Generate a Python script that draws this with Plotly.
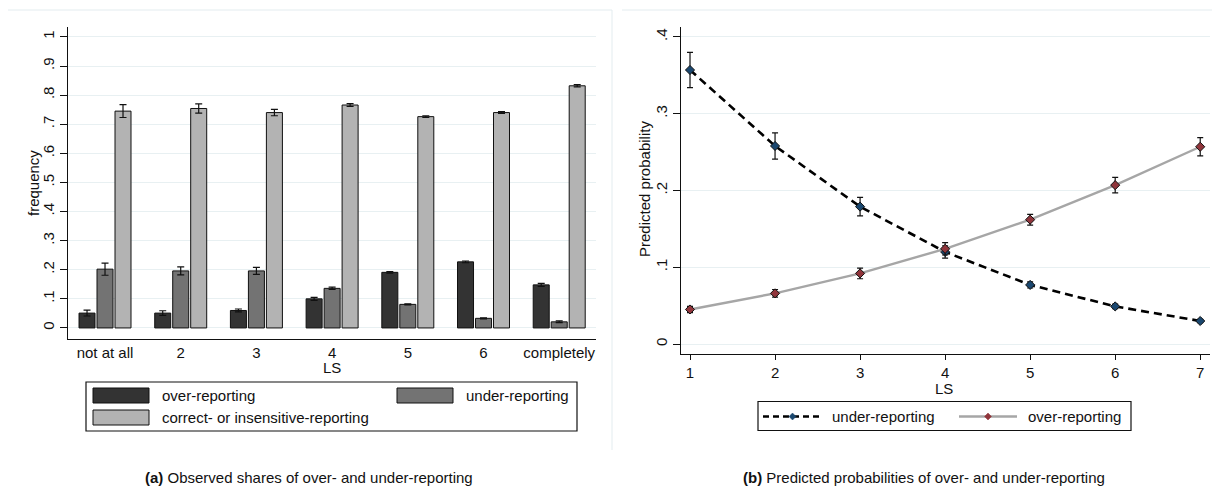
import plotly.graph_objects as go

W, H = 1212, 487

# ---------------- data: panel (a) ----------------
categories = ["not at all", "2", "3", "4", "5", "6", "completely"]
cat_pos = [1, 2, 3, 4, 5, 6, 7]
series_names_a = ["over-reporting", "under-reporting", "correct- or insensitive-reporting"]
over_share = [0.051, 0.051, 0.060, 0.100, 0.191, 0.227, 0.148]
over_err = [0.010, 0.008, 0.005, 0.005, 0.003, 0.003, 0.005]
under_share = [0.202, 0.196, 0.196, 0.136, 0.081, 0.033, 0.021]
under_err = [0.021, 0.014, 0.012, 0.004, 0.002, 0.002, 0.003]
correct_share = [0.745, 0.754, 0.740, 0.766, 0.726, 0.740, 0.832]
correct_err = [0.022, 0.016, 0.011, 0.005, 0.003, 0.003, 0.004]
yticks_a = [0, 0.1, 0.2, 0.3, 0.4, 0.5, 0.6, 0.7, 0.8, 0.9, 1.0]
yticklabels_a = ["0", ".1", ".2", ".3", ".4", ".5", ".6", ".7", ".8", ".9", "1"]

# ---------------- data: panel (b) ----------------
ls_values = [1, 2, 3, 4, 5, 6, 7]
series_names_b = ["under-reporting", "over-reporting"]
pred_under = [0.357, 0.258, 0.179, 0.120, 0.077, 0.049, 0.030]
pred_under_err = [0.023, 0.017, 0.012, 0.008, 0.004, 0.003, 0.002]
pred_over = [0.045, 0.066, 0.092, 0.124, 0.162, 0.207, 0.257]
pred_over_err = [0.004, 0.005, 0.007, 0.008, 0.007, 0.010, 0.012]
yticks_b = [0, 0.1, 0.2, 0.3, 0.4]
yticklabels_b = ["0", ".1", ".2", ".3", ".4"]

FONT = "Liberation Sans, Arial, Helvetica, sans-serif"
FS = 15
GRID = "#e8f0f2"
bar_colors = ["#333333", "#737373", "#b3b3b3"]
under_col = "#1a476f"
over_col = "#90353b"


def px(x):
    return x / W


def py(y):
    return 1 - y / H


fig = go.Figure()

# bars
for name, vals, errs, col in zip(series_names_a,
                                 [over_share, under_share, correct_share],
                                 [over_err, under_err, correct_err],
                                 bar_colors):
    fig.add_trace(go.Bar(
        x=cat_pos, y=vals, name=name, xaxis="x", yaxis="y",
        marker=dict(color=col, line=dict(color="#111111", width=1)),
        error_y=dict(type="data", array=errs, visible=True,
                     color="#111111", thickness=1.2, width=3.5),
        showlegend=False,
    ))

# lines panel (b)
fig.add_trace(go.Scatter(
    x=ls_values, y=pred_under, name=series_names_b[0], xaxis="x2", yaxis="y2",
    mode="lines+markers",
    line=dict(color="#000000", width=2.6, dash="8px,5px"),
    marker=dict(symbol="diamond", size=7, color=under_col,
                line=dict(color="#111111", width=1)),
    error_y=dict(type="data", array=pred_under_err, visible=True,
                 color="#111111", thickness=1.2, width=3),
    showlegend=False,
))
fig.add_trace(go.Scatter(
    x=ls_values, y=pred_over, name=series_names_b[1], xaxis="x2", yaxis="y2",
    mode="lines+markers",
    line=dict(color="#a6a6a6", width=2.4),
    marker=dict(symbol="diamond", size=7, color=over_col,
                line=dict(color="#111111", width=1)),
    error_y=dict(type="data", array=pred_over_err, visible=True,
                 color="#111111", thickness=1.2, width=3),
    showlegend=False,
))

tickfont = dict(family=FONT, size=FS, color="#111111")

fig.update_layout(
    width=W, height=H,
    margin=dict(l=0, r=0, t=0, b=0),
    paper_bgcolor="white", plot_bgcolor="white",
    barmode="group", bargap=0.287, bargroupgap=0.11,
    font=dict(family=FONT, size=FS, color="#111111"),
    xaxis=dict(domain=[px(68), px(596)], range=[0.511, 7.486],
               tickvals=cat_pos, ticktext=categories, ticks="",
               showline=True, linecolor="#111111", linewidth=1.2,
               showgrid=False, zeroline=False, tickfont=tickfont,
               anchor="y", fixedrange=True),
    yaxis=dict(domain=[py(339), py(27)], range=[-0.038, 1.034],
               tickvals=yticks_a, ticktext=yticklabels_a, tickangle=-90,
               ticks="outside", ticklen=7, tickcolor="#111111",
               showline=True, linecolor="#111111", linewidth=1.2,
               showgrid=True, gridcolor=GRID, gridwidth=1, zeroline=False,
               tickfont=tickfont, anchor="x"),
    xaxis2=dict(domain=[px(681), px(1210)], range=[0.894, 7.115],
                tickvals=ls_values, ticktext=[str(v) for v in ls_values],
                ticks="outside", ticklen=5, tickcolor="#111111",
                showline=True, linecolor="#111111", linewidth=1.2,
                showgrid=False, zeroline=False, tickfont=tickfont,
                anchor="y2"),
    yaxis2=dict(domain=[py(354), py(27)], range=[-0.013, 0.413],
                tickvals=yticks_b, ticktext=yticklabels_b, tickangle=-90,
                ticks="outside", ticklen=7, tickcolor="#111111",
                showline=True, linecolor="#111111", linewidth=1.2,
                showgrid=True, gridcolor=GRID, gridwidth=1, zeroline=False,
                tickfont=tickfont, anchor="x2"),
)

shapes = []
annotations = []

# panel frames (light)
shapes.append(dict(type="line", xref="paper", yref="paper",
                   x0=px(8), x1=px(612), y0=py(10), y1=py(10),
                   line=dict(color="#e3ecef", width=1)))
shapes.append(dict(type="line", xref="paper", yref="paper",
                   x0=px(612), x1=px(612), y0=py(10), y1=py(450),
                   line=dict(color="#e3ecef", width=1)))
shapes.append(dict(type="line", xref="paper", yref="paper",
                   x0=px(622), x1=px(1212), y0=py(10), y1=py(10),
                   line=dict(color="#e3ecef", width=1)))

tfont = dict(family=FONT, size=FS, color="#111111")

# axis titles
annotations.append(dict(text="frequency", xref="paper", yref="paper",
                        x=px(33), y=py(183), textangle=-90, showarrow=False,
                        font=tfont, xanchor="center", yanchor="middle"))
annotations.append(dict(text="LS", xref="paper", yref="paper",
                        x=px(332), y=py(367), showarrow=False,
                        font=tfont, xanchor="center", yanchor="middle"))
annotations.append(dict(text="Predicted probability", xref="paper", yref="paper",
                        x=px(645), y=py(189), textangle=-90, showarrow=False,
                        font=tfont, xanchor="center", yanchor="middle"))
annotations.append(dict(text="LS", xref="paper", yref="paper",
                        x=px(944), y=py(388), showarrow=False,
                        font=tfont, xanchor="center", yanchor="middle"))

# legend (a)
shapes.append(dict(type="rect", xref="paper", yref="paper",
                   x0=px(86), x1=px(577), y0=py(431), y1=py(382),
                   line=dict(color="#111111", width=1.2), fillcolor="white"))
leg_a = [(93, 149, 388, 403, 160), (397, 453, 388, 403, 464), (93, 149, 410, 425, 160)]
for (x0, x1, y0, y1, tx), name, col in zip(leg_a, series_names_a, bar_colors):
    shapes.append(dict(type="rect", xref="paper", yref="paper",
                       x0=px(x0), x1=px(x1), y0=py(y1), y1=py(y0),
                       line=dict(color="#111111", width=1), fillcolor=col))
    annotations.append(dict(text=name, xref="paper", yref="paper",
                            x=px(tx), y=py((y0 + y1) / 2), showarrow=False,
                            xanchor="left", yanchor="middle", font=tfont))

# legend (b)
shapes.append(dict(type="rect", xref="paper", yref="paper",
                   x0=px(758), x1=px(1131), y0=py(430.5), y1=py(401.5),
                   line=dict(color="#111111", width=1.2), fillcolor="white"))
ly = 416.5
leg_b = [(763, 822, 830, "#000000", 2.6, "6px,4px", under_col),
         (959, 1017, 1026, "#a6a6a6", 2.4, "solid", over_col)]
for (x0, x1, tx, lc, lw, ld, mc), name in zip(leg_b, series_names_b):
    shapes.append(dict(type="line", xref="paper", yref="paper",
                       x0=px(x0), x1=px(x1), y0=py(ly), y1=py(ly),
                       line=dict(color=lc, width=lw, dash=ld)))
    cx = (x0 + x1) / 2
    d = 3.5
    path = (f"M {px(cx)} {py(ly - d)} L {px(cx + d)} {py(ly)} "
            f"L {px(cx)} {py(ly + d)} L {px(cx - d)} {py(ly)} Z")
    shapes.append(dict(type="path", xref="paper", yref="paper", path=path,
                       fillcolor=mc, line=dict(color=mc, width=0.5)))
    annotations.append(dict(text=name, xref="paper", yref="paper",
                            x=px(tx), y=py(ly), showarrow=False,
                            xanchor="left", yanchor="middle", font=tfont))

# captions
annotations.append(dict(text="<b>(a)</b> Observed shares of over- and under-reporting",
                        xref="paper", yref="paper", x=px(309), y=py(477),
                        showarrow=False, xanchor="center", yanchor="middle",
                        font=tfont))
annotations.append(dict(text="<b>(b)</b> Predicted probabilities of over- and under-reporting",
                        xref="paper", yref="paper", x=px(924), y=py(477),
                        showarrow=False, xanchor="center", yanchor="middle",
                        font=tfont))

fig.update_layout(shapes=shapes, annotations=annotations)

fig.write_html("out.html")
